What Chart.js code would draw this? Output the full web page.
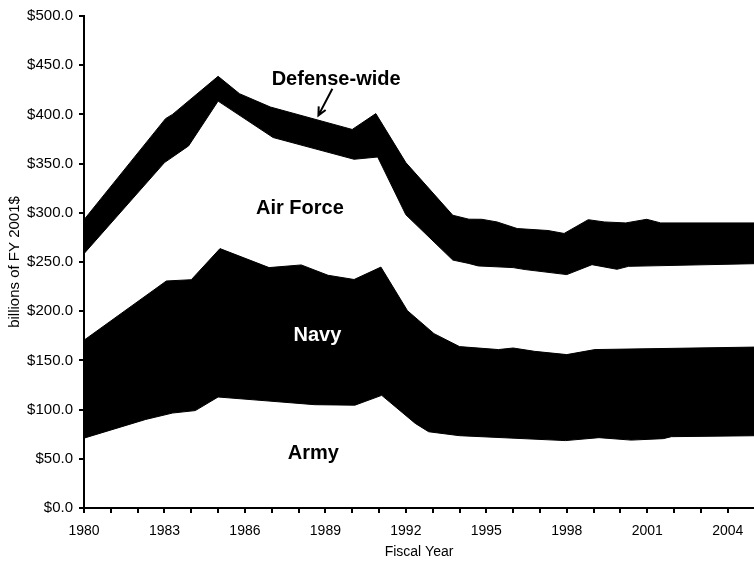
<!DOCTYPE html>
<html>
<head>
<meta charset="utf-8">
<script src="https://cdn.jsdelivr.net/npm/chart.js@4"></script>
<style>
  body { margin: 0; background: #fff; }
  #wrap { width: 754px; height: 561px; position: relative; }
</style>
</head>
<body>
<div id="wrap"><canvas id="chart"></canvas></div>
<script>
// top edge of each stacked band, billions of FY 2001$
var armyYears = [1980, 1982.3, 1983.3, 1984.15, 1985, 1986.9, 1988.6, 1990.1, 1991.1, 1992.35, 1992.85, 1994, 1997.95, 1999.2, 2000.4, 2001.6, 2001.9, 2005.2];
var armyTop = [71, 90, 96.5, 99, 112.8, 108.7, 105, 104.5, 114.5, 86, 77.5, 73.5, 68.5, 71.5, 69, 70.5, 72.5, 73.5];

var navyYears = [1980, 1983.07, 1984, 1985.07, 1986.9, 1988.1, 1989.1, 1990.07, 1991.07, 1992.06, 1993.05, 1994, 1995.45, 1996, 1996.8, 1998, 1999.05, 2005.2];
var navyTop = [170.5, 230.7, 232, 263.6, 244.3, 247, 236.5, 232.2, 244.8, 200.5, 177.2, 164, 161, 162.6, 159.2, 155.9, 161, 163.6];

var airForceYears = [1980, 1983, 1983.9, 1985, 1987.05, 1990.07, 1990.95, 1992, 1993.75, 1994.35, 1994.7, 1996, 1996.45, 1998, 1998.94, 1999.87, 2000.3, 2005.2];
var airForceTop = [258.5, 351, 368, 413.5, 376.5, 354.4, 356.7, 298, 252, 248.5, 246, 244.3, 242.3, 237.2, 247.3, 242.6, 245.6, 248.4];

var totalYears = [1980, 1983.04, 1983.3, 1985, 1985.8, 1986.95, 1990, 1990.88, 1992, 1993.75, 1994.35, 1994.83, 1995.4, 1996.15, 1997.3, 1997.9, 1998.8, 1999.4, 2000.2, 2000.98, 2001.5, 2005.2];
var totalTop = [293, 395.7, 400, 438.7, 421, 407.5, 384.7, 400.8, 351, 297.5, 293.5, 293.4, 290.7, 284, 282, 279, 293, 290.7, 289.7, 293.4, 289.7, 289.7];

var labelYears = [1980, 1983, 1986, 1989, 1992, 1995, 1998, 2001, 2004];

function points(xs, ys) {
    return xs.map(function (x, i) { return { x: x, y: ys[i] }; });
}

// band names, placed in data coordinates
var bandLabels = [
    { text: 'Defense-wide', x: 1989.4, y: 435.5, color: '#000' },
    { text: 'Air Force', x: 1988.05, y: 304.5, color: '#000' },
    { text: 'Navy', x: 1988.7, y: 175, color: '#fff' },
    { text: 'Army', x: 1988.55, y: 55, color: '#000' }
];

var labelPlugin = {
    id: 'bandLabels',
    afterDatasetsDraw: function (chart) {
        var ctx = chart.ctx;
        var xs = chart.scales.x, ys = chart.scales.y;
        ctx.save();
        ctx.font = 'bold 20px "Liberation Sans", Arial, sans-serif';
        ctx.textAlign = 'center';
        ctx.textBaseline = 'middle';
        bandLabels.forEach(function (l) {
            ctx.fillStyle = l.color;
            ctx.fillText(l.text, xs.getPixelForValue(l.x), ys.getPixelForValue(l.y));
        });
        // arrow from the Defense-wide label down to its band
        var x1 = xs.getPixelForValue(1989.26), y1 = ys.getPixelForValue(426);
        var x2 = xs.getPixelForValue(1988.74), y2 = ys.getPixelForValue(399);
        var a = Math.atan2(y2 - y1, x2 - x1);
        ctx.strokeStyle = '#000';
        ctx.lineWidth = 2;
        ctx.beginPath();
        ctx.moveTo(x1, y1);
        ctx.lineTo(x2, y2);
        ctx.moveTo(x2 - 9 * Math.cos(a - 0.45), y2 - 9 * Math.sin(a - 0.45));
        ctx.lineTo(x2, y2);
        ctx.lineTo(x2 - 9 * Math.cos(a + 0.45), y2 - 9 * Math.sin(a + 0.45));
        ctx.stroke();
        ctx.restore();
    }
};

Chart.defaults.font.family = '"Liberation Sans", Arial, sans-serif';
Chart.defaults.font.size = 14;
Chart.defaults.color = '#000';

var chart = new Chart(
    document.getElementById('chart'),
    {
        type: 'line',
        data: {
            datasets: [{
                label: 'Army',
                data: points(armyYears, armyTop),
                borderColor: '#000',
                borderWidth: 1,
                fill: false
            },
            {
                label: 'Navy',
                data: points(navyYears, navyTop),
                borderColor: '#000',
                backgroundColor: '#000',
                borderWidth: 1,
                fill: '-1'
            },
            {
                label: 'Air Force',
                data: points(airForceYears, airForceTop),
                borderColor: '#000',
                borderWidth: 1,
                fill: false
            },
            {
                label: 'Defense-wide',
                data: points(totalYears, totalTop),
                borderColor: '#000',
                backgroundColor: '#000',
                borderWidth: 1,
                fill: '-1'
            }]
        },
        options: {
            responsive: true,
            maintainAspectRatio: false,
            animation: false,
            elements: {
                point: { radius: 0 },
                line: { tension: 0 }
            },
            layout: {
                padding: { top: 16, left: 0, right: -2, bottom: 0 }
            },
            plugins: {
                legend: { display: false },
                tooltip: { enabled: false }
            },
            scales: {
                x: {
                    type: 'linear',
                    min: 1980,
                    max: 2004.98,
                    afterFit: function (scale) { scale.height = 53; },
                    border: { display: true, color: '#000', width: 2 },
                    grid: {
                        drawOnChartArea: false,
                        drawTicks: true,
                        tickLength: 5,
                        color: '#000',
                        lineWidth: 2
                    },
                    ticks: {
                        stepSize: 1,
                        autoSkip: false,
                        includeBounds: false,
                        maxRotation: 0,
                        minRotation: 0,
                        padding: 10,
                        callback: function (v) {
                            return labelYears.indexOf(v) >= 0 ? String(v) : '';
                        }
                    },
                    title: {
                        display: true,
                        text: 'Fiscal Year',
                        padding: { top: 0, bottom: 0 }
                    }
                },
                y: {
                    min: 0,
                    max: 500,
                    afterFit: function (scale) { scale.width = 84; },
                    border: { display: true, color: '#000', width: 2 },
                    grid: {
                        drawOnChartArea: false,
                        drawTicks: true,
                        tickLength: 5,
                        color: '#000',
                        lineWidth: 2
                    },
                    ticks: {
                        stepSize: 50,
                        padding: 6,
                        font: { size: 15 },
                        callback: function (v) { return '$' + v.toFixed(1); }
                    },
                    title: {
                        display: true,
                        text: 'billions of FY 2001$',
                        font: { size: 15 },
                        padding: { top: 6, bottom: 0 }
                    }
                }
            }
        },
        plugins: [labelPlugin]
    }
);
</script>
</body>
</html>
